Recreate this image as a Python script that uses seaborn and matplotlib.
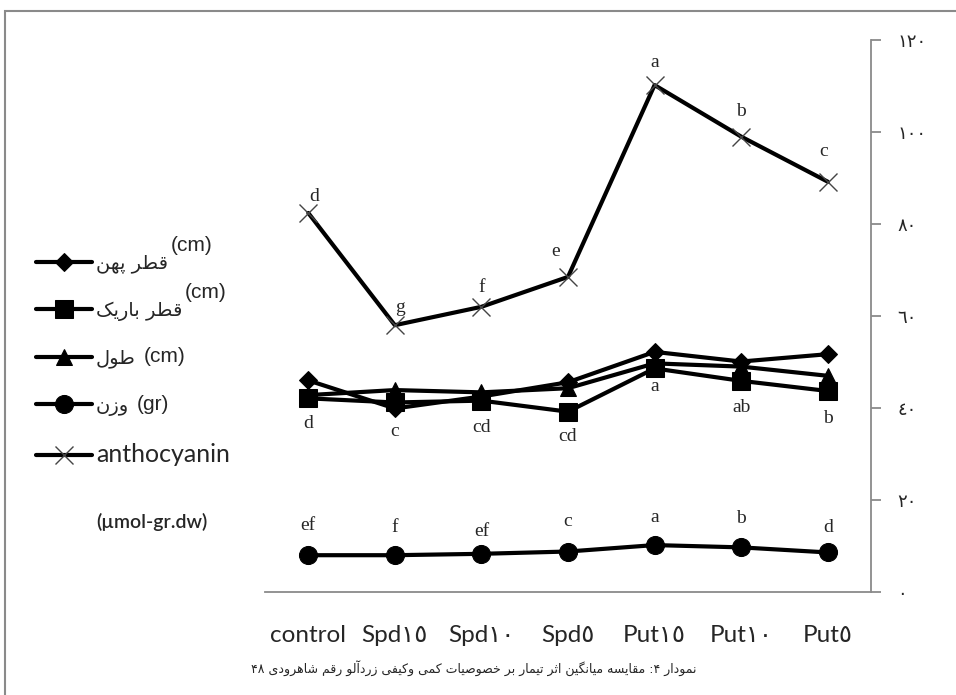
import re
import numpy as np
import pandas as pd
import matplotlib
matplotlib.use('Agg')
import matplotlib.pyplot as plt
import seaborn as sns
from matplotlib.patches import Rectangle

# categories and series
categories = ['control', 'Spd١٥', 'Spd١٠', 'Spd٥', 'Put١٥', 'Put١٠', 'Put٥']
qotr_pahn = [46.0, 39.9, 42.5, 45.6, 52.2, 50.1, 51.7]
qotr_barik = [42.1, 41.2, 41.6, 39.2, 48.6, 45.9, 43.7]
tool = [42.8, 43.9, 43.4, 44.3, 49.7, 49.0, 47.0]
vazn = [8.0, 8.0, 8.3, 8.8, 10.2, 9.7, 8.6]
anthocyanin = [82.4, 58.0, 62.0, 68.5, 110.2, 99.0, 89.2]

# mean comparison letters
letters_antho = ['d', 'g', 'f', 'e', 'a', 'b', 'c']
letters_size = ['d', 'c', 'cd', 'cd', 'a', 'ab', 'b']
letters_vazn = ['ef', 'f', 'ef', 'c', 'a', 'b', 'd']

yticks = [0, 20, 40, 60, 80, 100, 120]
ytick_labels = ['٠', '٢٠', '٤٠', '٦٠', '٨٠', '١٠٠', '١٢٠']

legend_names = ['قطر پهن', 'قطر باریک', 'طول', 'وزن', 'anthocyanin']
legend_units = ['(cm)', '(cm)', '(cm)', '(gr)', None]
unit_note = '(µmol-gr.dw)'
caption = 'نمودار ۴: مقایسه میانگین اثر تیمار بر خصوصیات کمی وکیفی زردآلو رقم شاهرودی ۴۸'

# --- tiny arabic/persian shaper (matplotlib has no text shaping) ---
# isolated, final, initial, medial
FORMS = {
    'ا': ('\uFE8D', '\uFE8E', None, None), 'آ': ('\uFE81', '\uFE82', None, None),
    'د': ('\uFEA9', '\uFEAA', None, None), 'ر': ('\uFEAD', '\uFEAE', None, None),
    'ز': ('\uFEAF', '\uFEB0', None, None), 'و': ('\uFEED', '\uFEEE', None, None),
    'ب': ('\uFE8F', '\uFE90', '\uFE91', '\uFE92'), 'ت': ('\uFE95', '\uFE96', '\uFE97', '\uFE98'),
    'ث': ('\uFE99', '\uFE9A', '\uFE9B', '\uFE9C'), 'خ': ('\uFEA5', '\uFEA6', '\uFEA7', '\uFEA8'),
    'س': ('\uFEB1', '\uFEB2', '\uFEB3', '\uFEB4'), 'ش': ('\uFEB5', '\uFEB6', '\uFEB7', '\uFEB8'),
    'ص': ('\uFEB9', '\uFEBA', '\uFEBB', '\uFEBC'), 'ط': ('\uFEC1', '\uFEC2', '\uFEC3', '\uFEC4'),
    'ف': ('\uFED1', '\uFED2', '\uFED3', '\uFED4'), 'ق': ('\uFED5', '\uFED6', '\uFED7', '\uFED8'),
    'ل': ('\uFEDD', '\uFEDE', '\uFEDF', '\uFEE0'), 'م': ('\uFEE1', '\uFEE2', '\uFEE3', '\uFEE4'),
    'ن': ('\uFEE5', '\uFEE6', '\uFEE7', '\uFEE8'), 'ه': ('\uFEE9', '\uFEEA', '\uFEEB', '\uFEEC'),
    'ی': ('\uFBFC', '\uFBFD', '\uFBFE', '\uFBFF'), 'ک': ('\uFB8E', '\uFB8F', '\uFB90', '\uFB91'),
    'گ': ('\uFB92', '\uFB93', '\uFB94', '\uFB95'), 'پ': ('\uFB56', '\uFB57', '\uFB58', '\uFB59'),
}


def rtl(s):
    if not any(ch in FORMS for ch in s):
        return s
    out = []
    for i, ch in enumerate(s):
        if ch not in FORMS:
            out.append(ch)
            continue
        prev = s[i - 1] if i > 0 else ''
        nxt = s[i + 1] if i + 1 < len(s) else ''
        jp = prev in FORMS and FORMS[prev][2] is not None
        jn = FORMS[ch][2] is not None and nxt in FORMS
        f = FORMS[ch]
        out.append(f[3] if (jp and jn) else f[2] if jn else f[1] if jp else f[0])
    vis = ''.join(out)[::-1]
    return re.sub(r'[0-9\u06F0-\u06F9\u0660-\u0669]+', lambda m: m.group()[::-1], vis)


sns.set_style('white')
plt.rcParams['font.family'] = ['Lato', 'DejaVu Sans']

fig = plt.figure(figsize=(9.56, 6.95), dpi=100)
ax = fig.add_axes([265 / 956, 1 - 592 / 695, 606 / 956, 552 / 695])

x = np.arange(len(categories))
series = [
    (anthocyanin, 'x', 13, 'anthocyanin'),
    (vazn, 'o', 13, 'vazn'),
    (qotr_pahn, 'D', 9, 'pahn'),
    (tool, '^', 12, 'tool'),
    (qotr_barik, 's', 13, 'barik'),
]
for vals, mk, ms, key in series:
    df = pd.DataFrame({'x': x, 'y': vals})
    if mk == 'x':
        sns.lineplot(data=df, x='x', y='y', ax=ax, color='black', lw=3, marker='x', ms=ms,
                     mec='#444444', mew=1.0, label=key)
    else:
        sns.lineplot(data=df, x='x', y='y', ax=ax, color='black', lw=3, marker=mk, ms=ms,
                     mec='black', mfc='black', label=key)
h, l = ax.get_legend_handles_labels()
handles = dict(zip(l, h))
ax.get_legend().remove()

# letters
antho_off = [(4, 12), (4, 13), (0, 14), (-9, 18), (0, 16), (0, 18), (-3, 22)]
size_off = [(0, -18), (0, -21), (0, -19.5), (0, -18), (0, -13), (0, -19.5), (0, -19.5)]
vazn_off = [(0, 21.5), (0, 20), (0, 16), (0, 21.5), (0, 19.5), (0, 21), (0, 18)]
for labs, vals, offs in [(letters_antho, anthocyanin, antho_off),
                         (letters_size, qotr_barik, size_off),
                         (letters_vazn, vazn, vazn_off)]:
    for i, (t, v) in enumerate(zip(labs, vals)):
        ax.annotate(t, (i, v), xytext=offs[i], textcoords='offset points', ha='center',
                    va='center', fontsize=14, family='Liberation Serif')

ax.set_xlim(-0.5, len(categories) - 0.5)
ax.set_ylim(0, 120)
ax.set_xlabel('')
ax.set_ylabel('')
for s in ['left', 'top']:
    ax.spines[s].set_visible(False)
for s in ['right', 'bottom']:
    ax.spines[s].set_color('#8a8a8a')
    ax.spines[s].set_linewidth(1.3)

ax.yaxis.tick_right()
ax.set_yticks(yticks)
ax.set_yticklabels(ytick_labels, family='DejaVu Sans', fontsize=13)
ax.tick_params(axis='y', direction='out', length=7, width=1.3, color='#8a8a8a', pad=12)

ax.set_xticks(x)
ax.set_xticklabels(categories, fontsize=17.5)
ax.set_xticks(np.arange(-0.5, len(categories)), minor=True)
ax.tick_params(axis='x', which='major', length=0, pad=24)
ax.tick_params(axis='x', which='minor', direction='out', length=7, width=1.3, color='#8a8a8a')
ax.grid(False)

# legend on the left
leg_labels = [rtl(n) for n in legend_names]
leg = fig.legend([handles['pahn'], handles['barik'], handles['tool'], handles['vazn'], handles['anthocyanin']],
                 leg_labels, loc='upper left', bbox_to_anchor=(18 / 956, 1 - 236 / 695),
                 frameon=False, handlelength=2.9, handletextpad=0.2, labelspacing=1.42,
                 prop={'family': 'DejaVu Sans', 'size': 14})
leg.get_texts()[-1].set_fontfamily(['Lato', 'DejaVu Sans'])
leg.get_texts()[-1].set_fontsize(18)

fig.canvas.draw()
inv = fig.transFigure.inverted()
for k, (t, u) in enumerate(zip(leg.get_texts(), legend_units)):
    if u is None:
        continue
    bb = t.get_window_extent()
    if k < 2:
        px, py = bb.x1 + 3, bb.y1 + 9
    else:
        px, py = bb.x1 + 8, (bb.y0 + bb.y1) / 2 + 2
    fx, fy = inv.transform((px, py))
    fig.text(fx, fy, u, ha='left', va='center', fontsize=15, family='Liberation Sans')

fig.text(152 / 956, 1 - 522 / 695, unit_note, ha='center', va='center', fontsize=14,
         fontweight='semibold')
fig.text(474 / 956, 1 - 668 / 695, rtl(caption), ha='center', va='center', fontsize=9,
         family='DejaVu Sans')

# page frame
fig.add_artist(Rectangle((5 / 956, -0.1), 2, 1.1 - 11 / 695, transform=fig.transFigure,
                         fill=False, ec='#8a8a8a', lw=1.5))

fig.savefig('out.png', dpi=100)
